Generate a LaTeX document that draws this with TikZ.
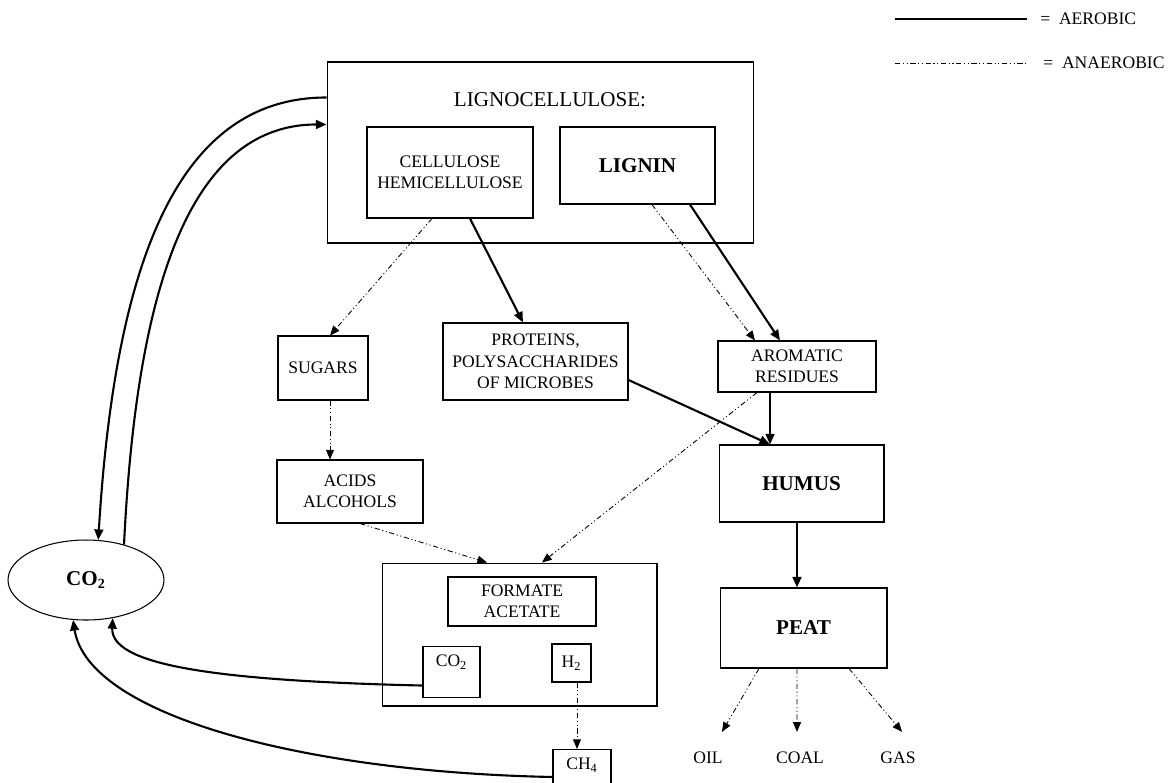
\documentclass[tikz,border=0pt]{standalone}
\usepackage{fontspec}
\setmainfont{Liberation Serif}
\usetikzlibrary{arrows.meta,shapes.geometric}

\begin{document}
\begin{tikzpicture}[x=0.02cm,y=-0.02cm,
        every node/.style={font=\fontsize{10}{12.2}\selectfont},
        box/.style={draw,line width=0.6pt,inner sep=0pt,align=center},
        big/.style={font=\fontsize{12}{14}\selectfont\bfseries},
        aer/.style={line width=1.2pt,-{Triangle[length=6pt,width=5pt]}},
        anaer/.style={line width=0.5pt,dash pattern=on 3pt off 1.5pt on 0.6pt off 1.5pt on 0.6pt off 1.5pt,-{Triangle[length=5.5pt,width=4.5pt]}}]
        \useasboundingbox (0,0) rectangle (1169,782);
        \node[anchor=west,inner sep=0pt] (aerlbl) at (1040,19) {= \ AEROBIC};
        \node[anchor=west,inner sep=0pt] (anaerlbl) at (1043,63) {= \ ANAEROBIC};
        \coordinate (aer0) at (895,19);
        \coordinate (anaer0) at (895,63);
        \draw[line width=1pt] (aer0) -- ([xshift=-0.26cm]aerlbl.west);
        \draw[line width=0.5pt,dash pattern=on 3pt off 1.5pt on 0.6pt off 1.5pt on 0.6pt off 1.5pt] (anaer0) -- ([xshift=-0.32cm]anaerlbl.west);
        \node[box,minimum width=8.54cm,minimum height=3.62cm] (ligno) at (540.5,152.5) {};
        \node[font=\fontsize{12}{14}\selectfont] (lignolbl) at (550,100) {LIGNOCELLULOSE:};
        \node[box,minimum width=3.32cm,minimum height=1.82cm] (cell) at (450,172.5) {CELLULOSE\\HEMICELLULOSE};
        \node[box,big,minimum width=3.1cm,minimum height=1.54cm] (lignin) at (637.5,165.5) {LIGNIN};
        \node[box,minimum width=1.8cm,minimum height=1.28cm] (sugars) at (323,368) {SUGARS};
        \node[box,minimum width=2.92cm,minimum height=1.26cm] (acids) at (350,491.5) {ACIDS\\ALCOHOLS};
        \node[box,minimum width=3.7cm,minimum height=1.54cm] (prot) at (535.5,361.5) {PROTEINS,\\POLYSACCHARIDES\\OF MICROBES};
        \node[box,minimum width=3.16cm,minimum height=1.02cm] (arom) at (797,366.5) {AROMATIC\\RESIDUES};
        \node[box,big,minimum width=3.3cm,minimum height=1.54cm] (humus) at (801.5,483.5) {HUMUS};
        \node[box,big,minimum width=3.34cm,minimum height=1.6cm] (peat) at (803.5,628) {PEAT};
        \node[box,minimum width=5.5cm,minimum height=2.86cm] (formbox) at (519.5,634.5) {};
        \node[box,minimum width=2.96cm,minimum height=0.98cm] (form) at (522,601.5) {FORMATE\\ACETATE};
        \node[box,anchor=north,minimum width=1.14cm,text height=0.4cm,text depth=0.62cm] (co2s) at (451.5,646) {CO\textsubscript{2}};
        \node[box,minimum width=0.78cm,minimum height=0.76cm] (h2) at (571.5,663) {H\textsubscript{2}};
        \node[box,anchor=north,minimum width=1.16cm,text height=0.4cm,text depth=0.8cm] (ch4) at (582,749) {CH\textsubscript{4}};
        \node[box,big,ellipse,minimum width=3.12cm,minimum height=1.6cm] (co2) at (86,580) {CO\textsubscript{2}};
        \node (oil) at (708,758) {OIL};
        \node (coal) at (800,758) {COAL};
        \node (gas) at (898,758) {GAS};
        \draw[aer] ([yshift=-0.72cm]ligno.north west) .. controls +(-148,0) and +(17,-280) .. (co2.73);
        \draw[aer] (co2.43) .. controls +(11,-225) and +(-148,0) .. ([yshift=-1.26cm]ligno.north west);
        \draw[aer] ([yshift=-0.27cm]co2s.west) .. controls +(-220,-5) and +(-2,45) .. (co2.305);
        \draw[aer] ([yshift=-0.56cm]ch4.north west) .. controls +(-250,-5) and +(15,95) .. (co2.252);
        \draw[anaer] ([xshift=-0.36cm]cell.south) -- ([xshift=0.14cm]sugars.north);
        \draw[aer] ([xshift=0.4cm]cell.south) -- ([xshift=-0.25cm]prot.north);
        \draw[anaer] ([xshift=0.29cm]lignin.south) -- ([xshift=-0.84cm]arom.north);
        \draw[aer] ([xshift=1.05cm]lignin.south) -- ([xshift=-0.34cm]arom.north);
        \draw[anaer] ([xshift=0.14cm]sugars.south) -- ([xshift=0.14cm]sugars.south |- acids.north);
        \draw[aer] ([yshift=-0.37cm]prot.east) -- ([xshift=-0.63cm]humus.north);
        \draw[aer] ([xshift=-0.54cm]arom.south) -- ([xshift=-0.54cm]arom.south |- humus.north);
        \draw[anaer] ([xshift=0.2cm]acids.south) -- ([xshift=-0.65cm]formbox.north);
        \draw[anaer] ([xshift=-0.8cm]arom.south) -- ([xshift=0.45cm]formbox.north);
        \draw[aer] ([xshift=-0.09cm]humus.south) -- ([xshift=-0.09cm]humus.south |- peat.north);
        \draw[anaer] ([xshift=0.11cm]h2.south) -- ([xshift=0.11cm]h2.south |- ch4.north);
        \draw[anaer] ([xshift=-0.89cm]peat.south) -- ([shift={(0.28cm,0.28cm)}]oil.north);
        \draw[anaer] ([xshift=-0.13cm]peat.south) -- ([shift={(-0.06cm,0.28cm)}]coal.north);
        \draw[anaer] ([xshift=0.91cm]peat.south) -- ([shift={(0.08cm,0.28cm)}]gas.north);
\end{tikzpicture}
\end{document}
